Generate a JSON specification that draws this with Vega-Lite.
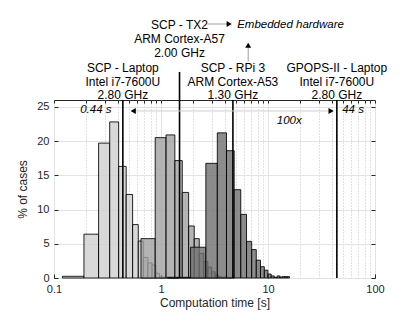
{
  "$schema": "https://vega.github.io/schema/vega-lite/v6.json",
  "width": 321,
  "height": 178,
  "autosize": {"type": "none"},
  "padding": {"left": 54, "top": 100, "right": 40, "bottom": 34},
  "background": "white",
  "config": {
    "view": {"stroke": "#262626", "strokeWidth": 1},
    "font": "Liberation Sans",
    "scale": {"continuousPadding": 0},
    "axis": {
      "labelFont": "Liberation Sans",
      "titleFont": "Liberation Sans",
      "labelFontSize": 11,
      "titleFontSize": 12,
      "titleFontWeight": "normal",
      "labelColor": "#262626",
      "titleColor": "#262626",
      "tickColor": "#262626",
      "domain": false
    }
  },
  "resolve": {"axis": {"x": "independent", "y": "independent"}},
  "layer": [
    {
      "data": {"values": [
        {"series": "Laptop", "start": 0.12, "end": 0.1905, "pct": 0.25},
        {"series": "Laptop", "start": 0.1905, "end": 0.261, "pct": 6.4},
        {"series": "Laptop", "start": 0.261, "end": 0.3315, "pct": 19.7},
        {"series": "Laptop", "start": 0.3315, "end": 0.402, "pct": 22.8},
        {"series": "Laptop", "start": 0.402, "end": 0.4725, "pct": 16.3},
        {"series": "Laptop", "start": 0.4725, "end": 0.543, "pct": 12.2},
        {"series": "Laptop", "start": 0.543, "end": 0.6135, "pct": 7.8},
        {"series": "Laptop", "start": 0.6135, "end": 0.684, "pct": 5.4},
        {"series": "Laptop", "start": 0.684, "end": 0.7545, "pct": 3.0},
        {"series": "Laptop", "start": 0.7545, "end": 0.825, "pct": 2.2},
        {"series": "Laptop", "start": 0.825, "end": 0.8955, "pct": 1.9},
        {"series": "Laptop", "start": 0.8955, "end": 0.966, "pct": 0.7},
        {"series": "Laptop", "start": 0.966, "end": 1.0365, "pct": 0.2},
        {"series": "Laptop", "start": 1.0365, "end": 1.107, "pct": 0.1},
        {"series": "Laptop", "start": 1.107, "end": 1.1775, "pct": 0.15},
        {"series": "Laptop", "start": 1.1775, "end": 1.248, "pct": 0.1},
        {"series": "Laptop", "start": 1.248, "end": 1.3185, "pct": 0.05},
        {"series": "Laptop", "start": 1.3185, "end": 1.389, "pct": 0.1},
        {"series": "Laptop", "start": 1.389, "end": 1.4595, "pct": 0.05},
        {"series": "TX2", "start": 0.65, "end": 0.8825, "pct": 5.75},
        {"series": "TX2", "start": 0.8825, "end": 1.115, "pct": 20.5},
        {"series": "TX2", "start": 1.115, "end": 1.3475, "pct": 20.9},
        {"series": "TX2", "start": 1.3475, "end": 1.58, "pct": 17.15},
        {"series": "TX2", "start": 1.58, "end": 1.8125, "pct": 12.5},
        {"series": "TX2", "start": 1.8125, "end": 2.045, "pct": 7.6},
        {"series": "TX2", "start": 2.045, "end": 2.2775, "pct": 5.75},
        {"series": "TX2", "start": 2.2775, "end": 2.51, "pct": 3.6},
        {"series": "TX2", "start": 2.51, "end": 2.7425, "pct": 2.4},
        {"series": "TX2", "start": 2.7425, "end": 2.975, "pct": 1.6},
        {"series": "TX2", "start": 2.975, "end": 3.2075, "pct": 0.9},
        {"series": "TX2", "start": 3.2075, "end": 3.44, "pct": 0.45},
        {"series": "TX2", "start": 3.44, "end": 3.6725, "pct": 0.2},
        {"series": "TX2", "start": 3.6725, "end": 3.905, "pct": 0.1},
        {"series": "TX2", "start": 3.905, "end": 4.1375, "pct": 0.15},
        {"series": "TX2", "start": 4.1375, "end": 4.37, "pct": 0.1},
        {"series": "TX2", "start": 4.37, "end": 4.6025, "pct": 0.05},
        {"series": "TX2", "start": 4.6025, "end": 4.835, "pct": 0.1},
        {"series": "RPi3", "start": 1.155, "end": 1.89, "pct": 0.1},
        {"series": "RPi3", "start": 1.89, "end": 2.625, "pct": 4.5},
        {"series": "RPi3", "start": 2.625, "end": 3.36, "pct": 16.75},
        {"series": "RPi3", "start": 3.36, "end": 4.095, "pct": 21.2},
        {"series": "RPi3", "start": 4.095, "end": 4.83, "pct": 18.6},
        {"series": "RPi3", "start": 4.83, "end": 5.565, "pct": 12.9},
        {"series": "RPi3", "start": 5.565, "end": 6.3, "pct": 9.3},
        {"series": "RPi3", "start": 6.3, "end": 7.035, "pct": 5.35},
        {"series": "RPi3", "start": 7.035, "end": 7.77, "pct": 4.15},
        {"series": "RPi3", "start": 7.77, "end": 8.505, "pct": 2.6},
        {"series": "RPi3", "start": 8.505, "end": 9.24, "pct": 1.65},
        {"series": "RPi3", "start": 9.24, "end": 9.975, "pct": 1.15},
        {"series": "RPi3", "start": 9.975, "end": 10.71, "pct": 0.58},
        {"series": "RPi3", "start": 10.71, "end": 11.445, "pct": 0.3},
        {"series": "RPi3", "start": 11.445, "end": 12.18, "pct": 0.1},
        {"series": "RPi3", "start": 12.18, "end": 12.915, "pct": 0.3},
        {"series": "RPi3", "start": 12.915, "end": 13.65, "pct": 0.15},
        {"series": "RPi3", "start": 13.65, "end": 14.385, "pct": 0.2},
        {"series": "RPi3", "start": 14.385, "end": 15.12, "pct": 0.2},
        {"series": "RPi3", "start": 15.12, "end": 15.855, "pct": 0.2}
      ]},
      "mark": {"type": "bar", "stroke": "#000000", "strokeWidth": 1, "strokeOpacity": 0.85, "fillOpacity": 0.8, "clip": false},
      "encoding": {
        "x": {"field": "start", "type": "quantitative",
              "scale": {"type": "log", "domain": [0.1, 100], "nice": false, "padding": 0},
              "axis": {"values": [0.1, 1, 10, 100], "format": "~g", "title": "Computation time [s]",
                       "grid": true, "gridColor": "#e3e3e3", "tickSize": -4, "labelPadding": 9,
                       "titlePadding": 3, "labelFlush": false, "labelOverlap": false}},
        "x2": {"field": "end"},
        "y": {"field": "pct", "type": "quantitative", "stack": null,
              "scale": {"domain": [0, 26], "nice": false, "padding": 0},
              "axis": {"values": [0, 5, 10, 15, 20, 25], "title": "% of cases", "grid": true,
                       "gridColor": "#e3e3e3", "tickSize": -4, "labelPadding": 9, "titlePadding": 7}},
        "y2": {"datum": 0},
        "color": {"field": "series", "type": "nominal",
                  "scale": {"domain": ["Laptop", "TX2", "RPi3"], "range": ["#cfcfcf", "#a1a1a1", "#6f6f6f"]},
                  "legend": null}
      }
    },
    {
      "data": {"values": [
        {"x": 0.44, "base": 0, "top": 26},
        {"x": 1.49, "base": 0, "top": 30.1},
        {"x": 4.7, "base": 0, "top": 26},
        {"x": 44, "base": 0, "top": 26}
      ]},
      "mark": {"type": "rule", "color": "black", "strokeWidth": 1.6, "clip": false},
      "encoding": {
        "x": {"field": "x", "type": "quantitative",
              "scale": {"type": "log", "domain": [0.1, 100], "nice": false, "padding": 0},
              "axis": {"values": [0.2,0.3,0.4,0.5,0.6,0.7,0.8,0.9,2,3,4,5,6,7,8,9,20,30,40,50,60,70,80,90],
                       "grid": true, "gridDash": [1, 2], "gridColor": "#c4c4c4", "tickSize": -2,
                       "labels": false, "title": null, "domain": false}},
        "y": {"field": "base", "type": "quantitative", "scale": {"domain": [0, 26], "nice": false, "padding": 0}, "axis": null},
        "y2": {"field": "top"}
      }
    },
    {
      "data": {"values": [
        {"label": "SCP - Laptop", "x": 0.44, "y": 30.65},
        {"label": "Intel i7-7600U", "x": 0.44, "y": 28.7},
        {"label": "2.80 GHz", "x": 0.44, "y": 26.75},
        {"label": "SCP - RPi 3", "x": 4.7, "y": 30.65},
        {"label": "ARM Cortex-A53", "x": 4.7, "y": 28.7},
        {"label": "1.30 GHz", "x": 4.7, "y": 26.75},
        {"label": "GPOPS-II - Laptop", "x": 44, "y": 30.65},
        {"label": "Intel i7-7600U", "x": 44, "y": 28.7},
        {"label": "2.80 GHz", "x": 44, "y": 26.75},
        {"label": "SCP - TX2", "x": 1.49, "y": 36.95},
        {"label": "ARM Cortex-A57", "x": 1.49, "y": 34.9},
        {"label": "2.00 GHz", "x": 1.49, "y": 32.8}
      ]},
      "mark": {"type": "text", "font": "Liberation Sans", "fontSize": 12, "color": "black", "align": "center", "baseline": "middle", "clip": false},
      "encoding": {
        "x": {"field": "x", "type": "quantitative",
              "scale": {"type": "log", "domain": [0.1, 100], "nice": false, "padding": 0},
              "axis": {"orient": "top", "values": [0.1,0.2,0.3,0.4,0.5,0.6,0.7,0.8,0.9,1,2,3,4,5,6,7,8,9,10,20,30,40,50,60,70,80,90,100],
                       "grid": false, "tickSize": -3, "labels": false, "title": null, "domain": false}},
        "y": {"field": "y", "type": "quantitative", "scale": {"domain": [0, 26], "nice": false, "padding": 0},
              "axis": {"orient": "right", "values": [0, 5, 10, 15, 20, 25], "grid": false, "tickSize": -4,
                       "labels": false, "title": null, "domain": false}},
        "text": {"field": "label"}
      }
    },
    {
      "data": {"values": [
        {"label": "Embedded hardware", "x": 5.15, "y": 36.95},
        {"label": "44 s", "x": 49.4, "y": 24.54}
      ]},
      "mark": {"type": "text", "font": "Liberation Sans", "fontSize": 11.5, "fontStyle": "italic", "color": "black", "align": "left", "baseline": "middle", "clip": false},
      "encoding": {
        "x": {"field": "x", "type": "quantitative", "scale": {"type": "log", "domain": [0.1, 100], "nice": false, "padding": 0}, "axis": null},
        "y": {"field": "y", "type": "quantitative", "scale": {"domain": [0, 26], "nice": false, "padding": 0}, "axis": null},
        "text": {"field": "label"}
      }
    },
    {
      "data": {"values": [
        {"label": "0.44 s", "x": 0.345, "y": 24.54}
      ]},
      "mark": {"type": "text", "font": "Liberation Sans", "fontSize": 11.5, "fontStyle": "italic", "color": "black", "align": "right", "baseline": "middle", "clip": false},
      "encoding": {
        "x": {"field": "x", "type": "quantitative", "scale": {"type": "log", "domain": [0.1, 100], "nice": false, "padding": 0}, "axis": null},
        "y": {"field": "y", "type": "quantitative", "scale": {"domain": [0, 26], "nice": false, "padding": 0}, "axis": null},
        "text": {"field": "label"}
      }
    },
    {
      "data": {"values": [
        {"label": "100x", "x": 15.8, "y": 22.93}
      ]},
      "mark": {"type": "text", "font": "Liberation Sans", "fontSize": 11.5, "fontStyle": "italic", "color": "black", "align": "center", "baseline": "middle", "clip": false},
      "encoding": {
        "x": {"field": "x", "type": "quantitative", "scale": {"type": "log", "domain": [0.1, 100], "nice": false, "padding": 0}, "axis": null},
        "y": {"field": "y", "type": "quantitative", "scale": {"domain": [0, 26], "nice": false, "padding": 0}, "axis": null},
        "text": {"field": "label"}
      }
    },
    {
      "data": {"values": [
        {"x": 0.55, "x2": 39, "y": 24.4, "y2": 24.4, "tone": "gray"},
        {"x": 2.72, "x2": 4.3, "y": 37.1, "y2": 37.1, "tone": "black"},
        {"x": 6.53, "x2": 6.53, "y": 31.6, "y2": 33.9, "tone": "black"}
      ]},
      "mark": {"type": "rule", "strokeWidth": 1, "clip": false},
      "encoding": {
        "x": {"field": "x", "type": "quantitative", "scale": {"type": "log", "domain": [0.1, 100], "nice": false, "padding": 0}, "axis": null},
        "x2": {"field": "x2"},
        "y": {"field": "y", "type": "quantitative", "scale": {"domain": [0, 26], "nice": false, "padding": 0}, "axis": null},
        "y2": {"field": "y2"},
        "color": {"field": "tone", "type": "nominal", "scale": {"domain": ["gray", "black"], "range": ["#8f8f8f", "#000000"]}, "legend": null}
      }
    },
    {
      "data": {"values": [
        {"x": 0.55, "y": 24.4, "dir": "left"},
        {"x": 38.9, "y": 24.4, "dir": "right"},
        {"x": 4.34, "y": 37.1, "dir": "right"},
        {"x": 6.53, "y": 34.0, "dir": "up"}
      ]},
      "mark": {"type": "point", "filled": true, "color": "black", "opacity": 1, "size": 36, "clip": false},
      "encoding": {
        "x": {"field": "x", "type": "quantitative", "scale": {"type": "log", "domain": [0.1, 100], "nice": false, "padding": 0}, "axis": null},
        "y": {"field": "y", "type": "quantitative", "scale": {"domain": [0, 26], "nice": false, "padding": 0}, "axis": null},
        "shape": {"field": "dir", "type": "nominal", "scale": {"domain": ["left", "right", "up"], "range": ["triangle-left", "triangle-right", "triangle-up"]}, "legend": null}
      }
    }
  ]
}
